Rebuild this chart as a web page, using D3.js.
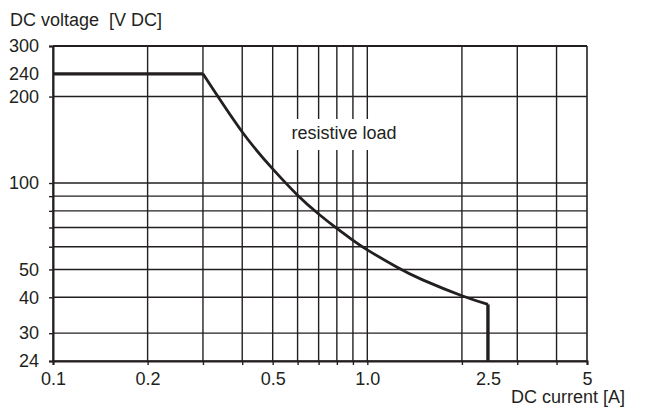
<!DOCTYPE html>
<html>
<head>
<meta charset="utf-8">
<script src="https://cdn.jsdelivr.net/npm/d3@7"></script>
<style>
  body { margin: 0; background: #fff; }
  text { font-family: "Liberation Sans", Arial, sans-serif; fill: #231f20; }
</style>
</head>
<body>
<div id="chart"></div>
<script>
// grid lines
let gridX = [0.1, 0.2, 0.3, 0.4, 0.5, 0.6, 0.7, 0.8, 0.9, 1, 2, 3, 4, 5];
let gridY = [24, 30, 40, 50, 60, 70, 80, 90, 100, 200, 300];

// tick labels
let xTickValues = [0.1, 0.2, 0.5, 1, 2.42, 5];
let xTickLabels = ["0.1", "0.2", "0.5", "1.0", "2.5", "5"];
let yTickValues = [300, 240, 200, 100, 50, 40, 30, 24];

// load limit curve (resistive load)
let flatCurrent = [0.1, 0.3];
let flatVoltage = [240, 240];
let curveCurrent = [0.3, 0.4, 0.5, 0.6, 0.7, 0.8, 0.9, 1.0, 1.24, 1.5, 2.0, 2.42];
let curveVoltage = [240, 150.5, 112, 90.7, 78, 69.5, 63.2, 58.5, 51, 46, 40.5, 37.8];
let dropCurrent = [2.42, 2.42];
let dropVoltage = [37.8, 24];

function renderChart(){
  let width = 659,
    height = 410;

  let ink = "#231f20",
    fontSize = "18px";

  let svg = d3.select("#chart")
    .append("svg")
    .attr("width", width)
    .attr("height", height)

  let x = d3.scaleLog().domain([0.1, 5]).range([53, 587]);
  let y = d3.scaleLog().domain([24, 300]).range([361, 46]);

  // grid
  let grid = svg.append("g").attr("class", "grid")
  grid.selectAll("line.v")
    .data(gridX)
    .enter()
    .append("line")
      .attr("class", "v")
      .attr("x1", d => x(d)).attr("x2", d => x(d))
      .attr("y1", y(300)).attr("y2", y(24))
      .attr("stroke", ink)
      .attr("stroke-width", d => (d === 5 ? 1.6 : 1.4))

  grid.selectAll("line.h")
    .data(gridY)
    .enter()
    .append("line")
      .attr("class", "h")
      .attr("x1", x(0.1)).attr("x2", x(5))
      .attr("y1", d => y(d)).attr("y2", d => y(d))
      .attr("stroke", ink)
      .attr("stroke-width", d => (d === 300 ? 2 : 1.4))

  // axes: tick marks on every grid line, labels only where printed
  svg.append("g")
    .attr("transform", `translate(0,${y(24)})`)
    .call(d3.axisBottom(x).tickValues(gridX).tickSize(4).tickFormat(""))

  let xLabels = svg.append("g")
    .attr("transform", `translate(0,${y(24)})`)
    .call(d3.axisBottom(x).tickValues(xTickValues).tickSize(0).tickPadding(11)
      .tickFormat((d, i) => xTickLabels[i]))
  xLabels.select(".domain").remove()

  svg.append("g")
    .attr("transform", `translate(${x(0.1)},0)`)
    .call(d3.axisLeft(y).tickValues(gridY).tickSize(4).tickFormat(""))

  let yLabels = svg.append("g")
    .attr("transform", `translate(${x(0.1)},0)`)
    .call(d3.axisLeft(y).tickValues(yTickValues).tickSize(0).tickPadding(14)
      .tickFormat(d3.format("d")))
  yLabels.select(".domain").remove()

  svg.selectAll(".tick line").attr("stroke", ink).attr("stroke-width", 1.4)
  svg.selectAll(".domain").attr("stroke", ink).attr("stroke-width", 2)
  svg.selectAll(".tick text")
    .style("font-size", fontSize)
    .style("font-family", "'Liberation Sans', Arial, sans-serif")
    .attr("fill", ink)

  // label with white box
  let labelG = svg.append("g")
  let label = labelG.append("text")
    .attr("x", 344)
    .attr("y", 139)
    .attr("text-anchor", "middle")
    .style("font-size", fontSize)
    .text("resistive load")
  let bb = label.node().getBBox()
  labelG.insert("rect", "text")
    .attr("x", bb.x - 4)
    .attr("y", 119)
    .attr("width", bb.width + 8)
    .attr("height", 31)
    .attr("fill", "#fff")

  // curve
  let line = d3.line()
    .x(d => x(d[0]))
    .y(d => y(d[1]))

  svg.append("path")
    .datum(d3.zip(flatCurrent, flatVoltage))
    .attr("d", line)
    .attr("fill", "none")
    .attr("stroke", ink)
    .attr("stroke-width", 3.4)

  svg.append("path")
    .datum(d3.zip(curveCurrent, curveVoltage))
    .attr("d", d3.line().x(d => x(d[0])).y(d => y(d[1])).curve(d3.curveNatural))
    .attr("fill", "none")
    .attr("stroke", ink)
    .attr("stroke-width", 2.8)

  svg.append("path")
    .datum(d3.zip(dropCurrent, dropVoltage))
    .attr("d", line)
    .attr("fill", "none")
    .attr("stroke", ink)
    .attr("stroke-width", 3.4)

  // axis titles
  svg.append("text")
    .attr("x", 10)
    .attr("y", 26)
    .style("font-size", fontSize)
    .style("white-space", "pre")
    .text("DC voltage  [V DC]")

  svg.append("text")
    .attr("x", 625)
    .attr("y", 403)
    .attr("text-anchor", "end")
    .style("font-size", fontSize)
    .text("DC current [A]")
}

renderChart()
</script>
</body>
</html>
